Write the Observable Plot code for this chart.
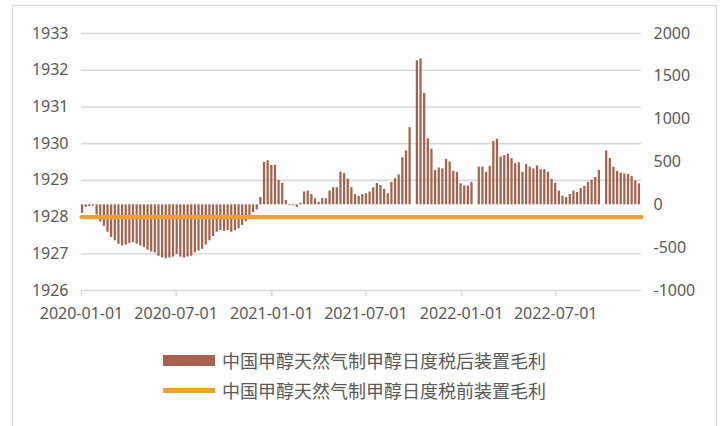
<!DOCTYPE html>
<html>
<head>
<meta charset="utf-8">
<script src="https://cdn.jsdelivr.net/npm/d3@7"></script>
<script src="https://cdn.jsdelivr.net/npm/@observablehq/plot@0.6"></script>
<style>
  body { margin: 0; background: #fff; font-family: "Noto Sans", "Noto Sans CJK SC", sans-serif; }
  #wrap { position: relative; width: 728px; height: 426px; overflow: hidden; }
  #frame { position: absolute; left: 12px; top: 5px; width: 705px; height: 440px; border: 1px solid #d9d9d9; box-sizing: border-box; pointer-events: none; }
  #legend { position: relative; padding-top: 15px; }
  .item { display: flex; align-items: center; height: 30px; margin-left: 163px; font-family: "Noto Sans CJK SC", sans-serif; font-size: 18px; color: #595959; }
  .sw { width: 52px; margin-right: 7px; }
</style>
</head>
<body>
<div id="wrap">
  <div id="chart"></div>
  <div id="legend"></div>
  <div id="frame"></div>
</div>
<script>
// ---- data ----
const seriesNames = ["中国甲醇天然气制甲醇日度税后装置毛利", "中国甲醇天然气制甲醇日度税前装置毛利"];
const seriesColors = ["#a6624c", "#f0a12c"];
const firstWeek = "2020-01-03";
// weekly after-tax gross profit (right axis), null = no data (holiday weeks)
const profitValues = [
  -100,-30,-20,-15,-120,-200,-250,-320,-380,-420,
  -460,-480,-470,-450,-440,-460,-480,-500,-530,-550,
  -560,-600,-620,-630,-620,-610,-580,-610,-620,-610,
  -600,-560,-540,-520,-470,-420,-370,-320,-300,-310,
  -300,-320,-300,-280,-240,-200,-150,-90,-60,85,
  495,515,460,460,285,250,50,-10,-10,-30,
  20,150,160,120,70,30,75,70,160,200,
  200,380,365,300,200,120,100,120,130,150,
  200,250,225,180,130,260,305,350,550,630,
  900,null,1680,1705,1300,770,650,400,430,420,
  530,500,390,380,245,220,220,260,null,440,
  440,380,450,740,765,560,575,590,540,480,
  490,380,470,440,420,455,410,410,380,300,
  250,160,100,85,120,160,145,190,215,260,
  285,320,400,null,630,540,440,390,370,360,
  355,330,280,245
];
// second series (left axis), flat line
const lineDates = ["2020-01-01", "2022-12-13"];
const lineValues = [1928, 1928];
// axes
const leftTicks = [1926, 1927, 1928, 1929, 1930, 1931, 1932, 1933];
const rightTicks = [-1000, -500, 0, 500, 1000, 1500, 2000];
const xTickLabels = ["2020-01-01", "2020-07-01", "2021-01-01", "2021-07-01", "2022-01-01", "2022-07-01"];
const xStart = "2020-01-01", xEnd = "2022-12-13";

// ---- build ----
const leftMin = 1926, leftMax = 1933, rightMin = -1000, rightMax = 2000;
const toLeft = v => leftMin + (v - rightMin) * (leftMax - leftMin) / (rightMax - rightMin);
const parse = d3.utcParse("%Y-%m-%d");
const start = parse(firstWeek);
const bars = profitValues
  .map((v, i) => ({ date: d3.utcDay.offset(start, 7 * i), value: v }))
  .filter(d => d.value != null);
const line = lineDates.map((d, i) => ({ date: parse(d), value: lineValues[i] }));
const grey = "#595959";

const chart = Plot.plot({
  width: 728,
  height: 330,
  marginTop: 33,
  marginBottom: 40,
  marginLeft: 81,
  marginRight: 87,
  style: { fontFamily: "Noto Sans, sans-serif", fontSize: "16px", color: grey, background: "transparent" },
  x: { type: "utc", domain: [parse(xStart), parse(xEnd)] },
  y: { domain: [leftMin, leftMax] },
  marks: [
    Plot.ruleY(leftTicks, { stroke: "#d9d9d9", strokeWidth: 1.6 }),
    Plot.rectY(bars, {
      x1: d => d3.utcHour.offset(d.date, -52),
      x2: d => d3.utcHour.offset(d.date, 52),
      y1: () => toLeft(0),
      y2: d => toLeft(d.value),
      fill: seriesColors[0]
    }),
    Plot.lineY(line, { x: "date", y: "value", stroke: seriesColors[1], strokeWidth: 4.2 }),
    Plot.axisY(leftTicks, { anchor: "left", tickSize: 0, tickPadding: 13, tickFormat: d => String(d), label: null, fill: grey }),
    Plot.axisY(rightTicks.map(toLeft), { anchor: "right", tickSize: 0, tickPadding: 12, tickFormat: (d, i) => String(rightTicks[i]), label: null, fill: grey }),
    Plot.axisX(xTickLabels.map(parse), { tickSize: 6, tickPadding: 11, stroke: "#d9d9d9", strokeWidth: 1.5, tickFormat: d3.utcFormat("%Y-%m-%d"), label: null, fill: grey })
  ]
});
document.getElementById("chart").appendChild(chart);

const legend = document.getElementById("legend");
seriesNames.forEach((name, i) => {
  const item = document.createElement("div");
  item.className = "item";
  const sw = document.createElement("span");
  sw.className = "sw";
  sw.style.background = seriesColors[i];
  sw.style.height = i === 0 ? "11px" : "5px";
  const t = document.createElement("span");
  t.textContent = name;
  item.appendChild(sw);
  item.appendChild(t);
  legend.appendChild(item);
});
</script>
</body>
</html>
